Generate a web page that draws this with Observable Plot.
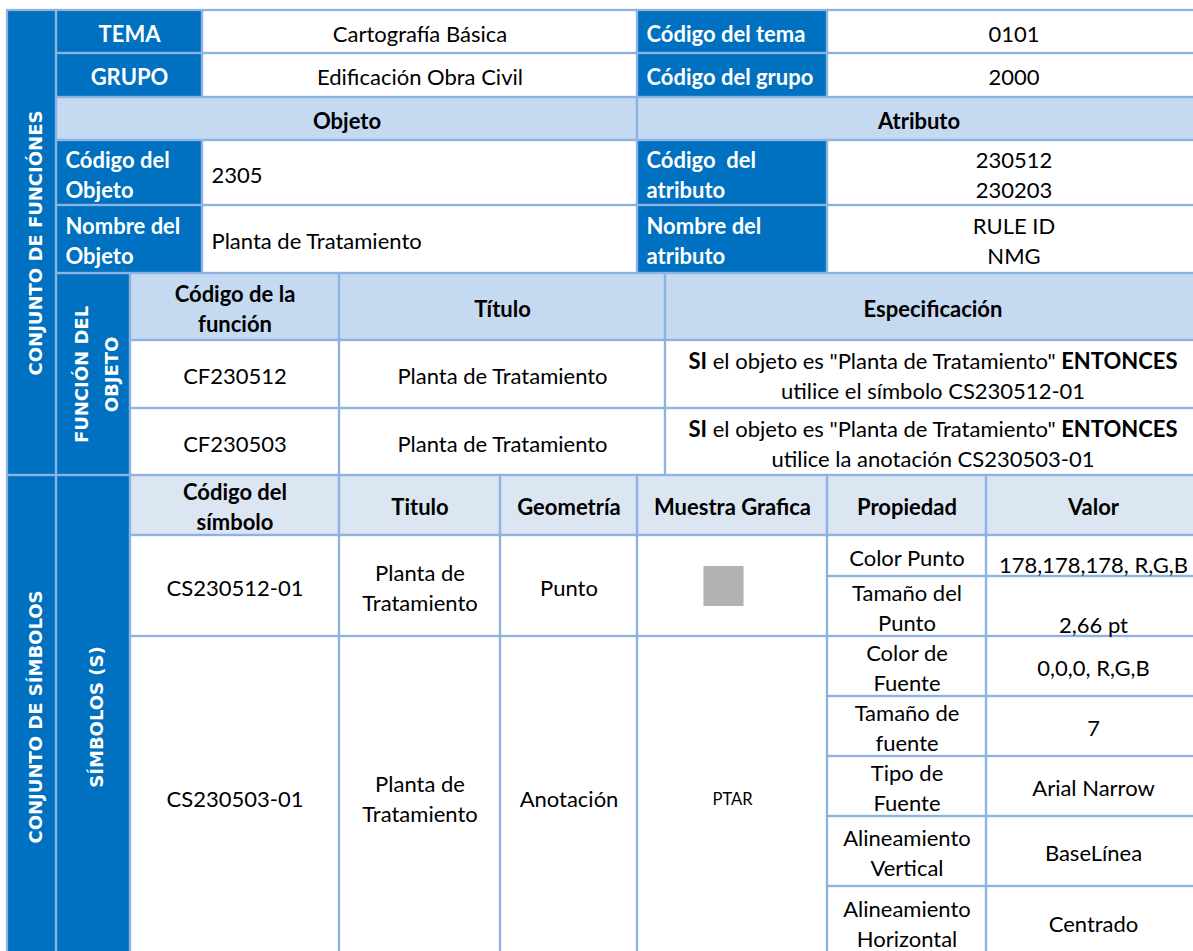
<!DOCTYPE html>
<html>
<head>
<meta charset="utf-8">
<script src="https://cdn.jsdelivr.net/npm/d3@7"></script>
<script src="https://cdn.jsdelivr.net/npm/@observablehq/plot@0.6"></script>
<style>
  html, body { margin: 0; padding: 0; background: #ffffff; }
  #chart svg { display: block; }
</style>
</head>
<body>
<div id="chart"></div>
<script>
// ---------- table content ----------
const sectionTitles = ["CONJUNTO DE FUNCIÓNES", "CONJUNTO DE SÍMBOLOS"];
const subsectionTitles = ["FUNCIÓN DEL\nOBJETO", "SÍMBOLOS (S)"];

const themeRows = [
  {label: "TEMA", value: "Cartografía Básica", codeLabel: "Código del tema", code: "0101"},
  {label: "GRUPO", value: "Edificación Obra Civil", codeLabel: "Código del grupo", code: "2000"}
];
const blockHeaders = ["Objeto", "Atributo"];
const objectRows = [
  {label: "Código del\nObjeto", value: "2305", attrLabel: "Código  del\natributo", attrValue: "230512\n230203"},
  {label: "Nombre del\nObjeto", value: "Planta de Tratamiento", attrLabel: "Nombre del\natributo", attrValue: "RULE ID\nNMG"}
];
const functionHeaders = ["Código de la\nfunción", "Título", "Especificación"];
const functionRows = [
  ["CF230512", "Planta de Tratamiento", "SI el objeto es \"Planta de Tratamiento\" ENTONCES\nutilice el símbolo CS230512-01"],
  ["CF230503", "Planta de Tratamiento", "SI el objeto es \"Planta de Tratamiento\" ENTONCES\nutilice la anotación CS230503-01"]
];
const symbolHeaders = ["Código del\nsímbolo", "Titulo", "Geometría", "Muestra Grafica", "Propiedad", "Valor"];
const symbols = [
  {code: "CS230512-01", title: "Planta de\nTratamiento", geometry: "Punto", sample: "",
   props: [["Color Punto", "178,178,178, R,G,B"], ["Tamaño del\nPunto", "2,66 pt"]]},
  {code: "CS230503-01", title: "Planta de\nTratamiento", geometry: "Anotación", sample: "PTAR",
   props: [["Color de\nFuente", "0,0,0, R,G,B"], ["Tamaño de\nfuente", "7"], ["Tipo de\nFuente", "Arial Narrow"],
           ["Alineamiento\nVertical", "BaseLínea"], ["Alineamiento\nHorizontal", "Centrado"]]}
];
const pointColorRGB = [178, 178, 178];

// ---------- layout grid (pixel edges of columns / rows) ----------
const colEdges = [7, 56, 130, 202, 339, 500, 637, 665, 827, 986, 1200];
const rowEdges = [10, 53, 97, 140, 205, 273, 340, 408, 475, 535, 576, 636, 696, 756, 816, 886, 958];

const palette = {
  blue: {fill: "#0070C0", ink: "white", weight: "bold"},
  head: {fill: "#C5D9F1", ink: "black", weight: "bold"},
  head2: {fill: "#DCE6F2", ink: "black", weight: "bold"},
  body: {fill: "#FFFFFF", ink: "black", weight: "normal"}
};
const borderColor = "#8DB3E2";

// ---------- build cells ----------
const cells = [];
function cell(c0, c1, r0, r1, text, kind, opts = {}) {
  cells.push({c0, c1, r0, r1, text, kind, align: "middle", valign: "middle", rotate: false, small: false, ...opts});
}
cell(0, 1, 0, 8, sectionTitles[0], "blue", {rotate: true});
cell(0, 1, 8, 16, sectionTitles[1], "blue", {rotate: true});
themeRows.forEach((d, i) => {
  cell(1, 3, i, i + 1, d.label, "blue");
  cell(3, 6, i, i + 1, d.value, "body");
  cell(6, 8, i, i + 1, d.codeLabel, "blue", {align: "start"});
  cell(8, 10, i, i + 1, d.code, "body");
});
cell(1, 6, 2, 3, blockHeaders[0], "head");
cell(6, 10, 2, 3, blockHeaders[1], "head");
objectRows.forEach((d, i) => {
  const r = 3 + i;
  cell(1, 3, r, r + 1, d.label, "blue", {align: "start"});
  cell(3, 6, r, r + 1, d.value, "body", {align: "start"});
  cell(6, 8, r, r + 1, d.attrLabel, "blue", {align: "start"});
  cell(8, 10, r, r + 1, d.attrValue, "body");
});
cell(1, 2, 5, 8, subsectionTitles[0], "blue", {rotate: true});
const fCols = [[2, 4], [4, 7], [7, 10]];
functionHeaders.forEach((h, j) => cell(fCols[j][0], fCols[j][1], 5, 6, h, "head"));
functionRows.forEach((row, i) => row.forEach((t, j) => cell(fCols[j][0], fCols[j][1], 6 + i, 7 + i, t, "body")));
cell(1, 2, 8, 16, subsectionTitles[1], "blue", {rotate: true});
const sCols = [[2, 4], [4, 5], [5, 6], [6, 8], [8, 9], [9, 10]];
symbolHeaders.forEach((h, j) => cell(sCols[j][0], sCols[j][1], 8, 9, h, "head2"));
let rStart = 9;
const sampleSpots = [];
symbols.forEach((s, i) => {
  const n = s.props.length;
  cell(2, 4, rStart, rStart + n, s.code, "body");
  cell(4, 5, rStart, rStart + n, s.title, "body");
  cell(5, 6, rStart, rStart + n, s.geometry, "body");
  cell(6, 8, rStart, rStart + n, s.sample, "body", {small: true});
  if (!s.sample) sampleSpots.push({c0: 6, c1: 8, r0: rStart, r1: rStart + n, color: `rgb(${pointColorRGB.join(",")})`});
  s.props.forEach((p, k) => {
    cell(8, 9, rStart + k, rStart + k + 1, p[0], "body");
    cell(9, 10, rStart + k, rStart + k + 1, p[1], "body", {valign: i === 0 ? "bottom" : "middle"});
  });
  rStart += n;
});

// ---------- text placement ----------
const texts = cells.filter(d => d.text).map(d => ({
  ...d,
  tx: d.align === "start" ? colEdges[d.c0] + 9 : (colEdges[d.c0] + colEdges[d.c1]) / 2,
  ty: d.valign === "bottom" ? rowEdges[d.r1] - 13 : (rowEdges[d.r0] + rowEdges[d.r1]) / 2,
  ink: palette[d.kind].ink,
  weight: palette[d.kind].weight
}));

const mainFont = "Lato, 'Open Sans', sans-serif";
const mainSize = 22;
const groups = d3.groups(texts, d => [d.rotate, d.small, d.align, d.weight, d.ink].join("|"));
const textMarks = groups.map(([key, arr]) => {
  const d0 = arr[0];
  if (d0.rotate) {
    return Plot.text(arr, {x: "tx", y: "ty", text: "text", rotate: -90, fill: d0.ink,
      fontFamily: "'DejaVu Sans', sans-serif", fontWeight: "bold", fontSize: 18, lineHeight: 1.67,
      textAnchor: "middle", lineAnchor: "middle"});
  }
  return Plot.text(arr, {x: "tx", y: "ty", text: "text", fill: d0.ink,
    fontFamily: mainFont, fontWeight: d0.weight, fontSize: d0.small ? 16.5 : mainSize,
    lineHeight: 30 / mainSize, textAnchor: d0.align, lineAnchor: "middle"});
});

const svg = Plot.plot({
  width: 1193,
  height: 951,
  margin: 0,
  style: {background: "white"},
  x: {type: "linear", domain: [0, 1193], range: [0, 1193], axis: null},
  y: {type: "linear", domain: [0, 951], range: [0, 951], axis: null},
  marks: [
    Plot.rect(cells, {x1: d => colEdges[d.c0], x2: d => colEdges[d.c1], y1: d => rowEdges[d.r0], y2: d => rowEdges[d.r1],
      fill: d => palette[d.kind].fill}),
    Plot.dot(sampleSpots, {x: d => (colEdges[d.c0] + colEdges[d.c1]) / 2, y: d => (rowEdges[d.r0] + rowEdges[d.r1]) / 2,
      dx: -9, symbol: "square", r: 22.6, fill: d => d.color, stroke: "none"}),
    Plot.rect(cells, {x1: d => colEdges[d.c0], x2: d => colEdges[d.c1], y1: d => rowEdges[d.r0], y2: d => rowEdges[d.r1],
      fill: "none", stroke: borderColor, strokeWidth: 2.2}),
    ...textMarks
  ],
  color: {type: "identity"}
});

svg.setAttributeNS("http://www.w3.org/XML/1998/namespace", "xml:space", "preserve");
// rich text: bold keywords in the specification lines
const NS = "http://www.w3.org/2000/svg";
svg.querySelectorAll("text, tspan").forEach(node => {
  if (node.children.length) return;
  const m = node.textContent.match(/^(SI)( .* )(ENTONCES)$/);
  if (!m) return;
  node.textContent = "";
  const b1 = document.createElementNS(NS, "tspan");
  b1.setAttribute("font-weight", "bold");
  b1.textContent = m[1];
  const b2 = document.createElementNS(NS, "tspan");
  b2.setAttribute("font-weight", "bold");
  b2.textContent = m[3];
  node.append(b1, document.createTextNode(m[2]), b2);
});

document.getElementById("chart").append(svg);
</script>
</body>
</html>
